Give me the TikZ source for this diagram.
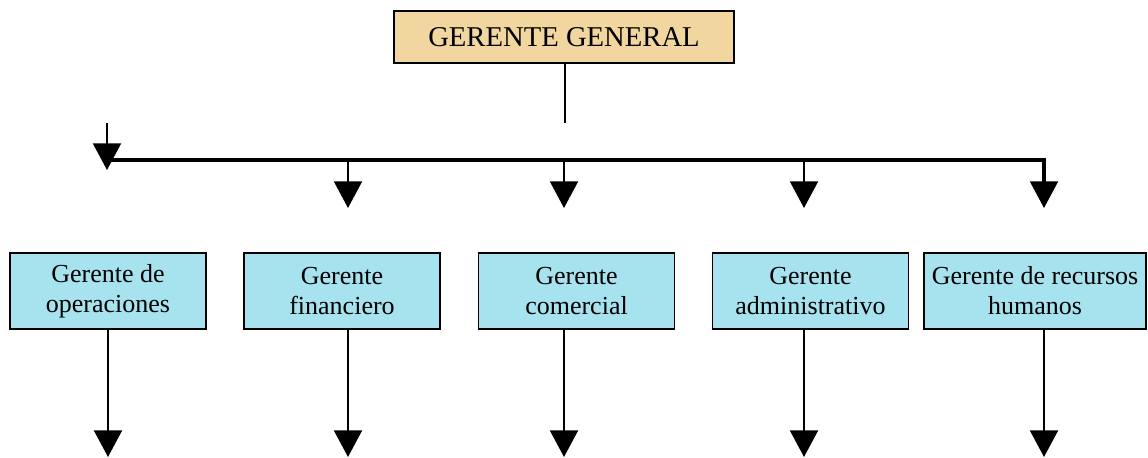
\documentclass[tikz,border=0pt]{standalone}
\usepackage{fontspec}
\setmainfont{Liberation Serif}
\usepackage{xcolor}
\usetikzlibrary{arrows.meta,positioning}

\definecolor{topfill}{RGB}{242,214,160}
\definecolor{boxfill}{RGB}{166,227,239}

\begin{document}
\begin{tikzpicture}[
    x=0.75pt, y=-0.75pt,
    head/.style={draw, fill=topfill, line width=0.9pt, minimum width=255pt, minimum height=39pt, inner sep=0pt, align=center, font=\fontsize{21.5}{25}\selectfont},
    mgr/.style={draw, fill=boxfill, line width=0.9pt, minimum width=147pt, minimum height=57pt, inner sep=0pt, align=center, font=\fontsize{19.5}{22.5}\selectfont},
    arr/.style={-{Triangle[length=20pt, width=21pt]}, line width=1.5pt},
    bar/.style={line width=2.4pt},
]
\useasboundingbox (0,0) rectangle (1148,457);

% Top: general manager
\node[head] (gg) at (564,37) {GERENTE GENERAL};

% Distribution bar
\coordinate (gstem) at (565,123);
\coordinate (lstart) at (107,123);
\coordinate (bl) at (107,160);
\coordinate (br) at (1044,160);
\coordinate (bcorner) at (1044,184);
\coordinate (tl) at (107,170);
\coordinate (tfin) at (348,208);
\coordinate (tcom) at (564,208);
\coordinate (tadm) at (804,208);
\coordinate (trrh) at (1044,208);

% Managers row
\node[mgr] (oper) at (108,291) {Gerente de\\operaciones};
\node[mgr] (fin) at (342,291) {Gerente\\financiero};
\node[mgr] (com) at (576.5,291) {Gerente\\comercial};
\node[mgr] (adm) at (810.5,291) {Gerente\\administrativo};
\node[mgr, minimum width=166.5pt] (rrhh) at (1035,291) {Gerente de recursos\\humanos};

% Free ends at the bottom
\coordinate (eoper) at (108,457);
\coordinate (efin) at (348,457);
\coordinate (ecom) at (564,457);
\coordinate (eadm) at (804,457);
\coordinate (errhh) at (1044,457);

% Connectors
\draw[line width=1.5pt] (gg.south -| gstem) -- (gstem);
\draw[bar] (bl) -- (br) -- (bcorner);
\draw[arr] (lstart) -- (tl);
\draw[arr] (bl -| tfin) -- (tfin);
\draw[arr] (bl -| tcom) -- (tcom);
\draw[arr] (bl -| tadm) -- (tadm);
\draw[arr] (br) -- (trrh);

\draw[arr] (oper.south -| eoper) -- (eoper);
\draw[arr] (fin.south -| efin) -- (efin);
\draw[arr] (com.south -| ecom) -- (ecom);
\draw[arr] (adm.south -| eadm) -- (eadm);
\draw[arr] (rrhh.south -| errhh) -- (errhh);

\end{tikzpicture}
\end{document}
